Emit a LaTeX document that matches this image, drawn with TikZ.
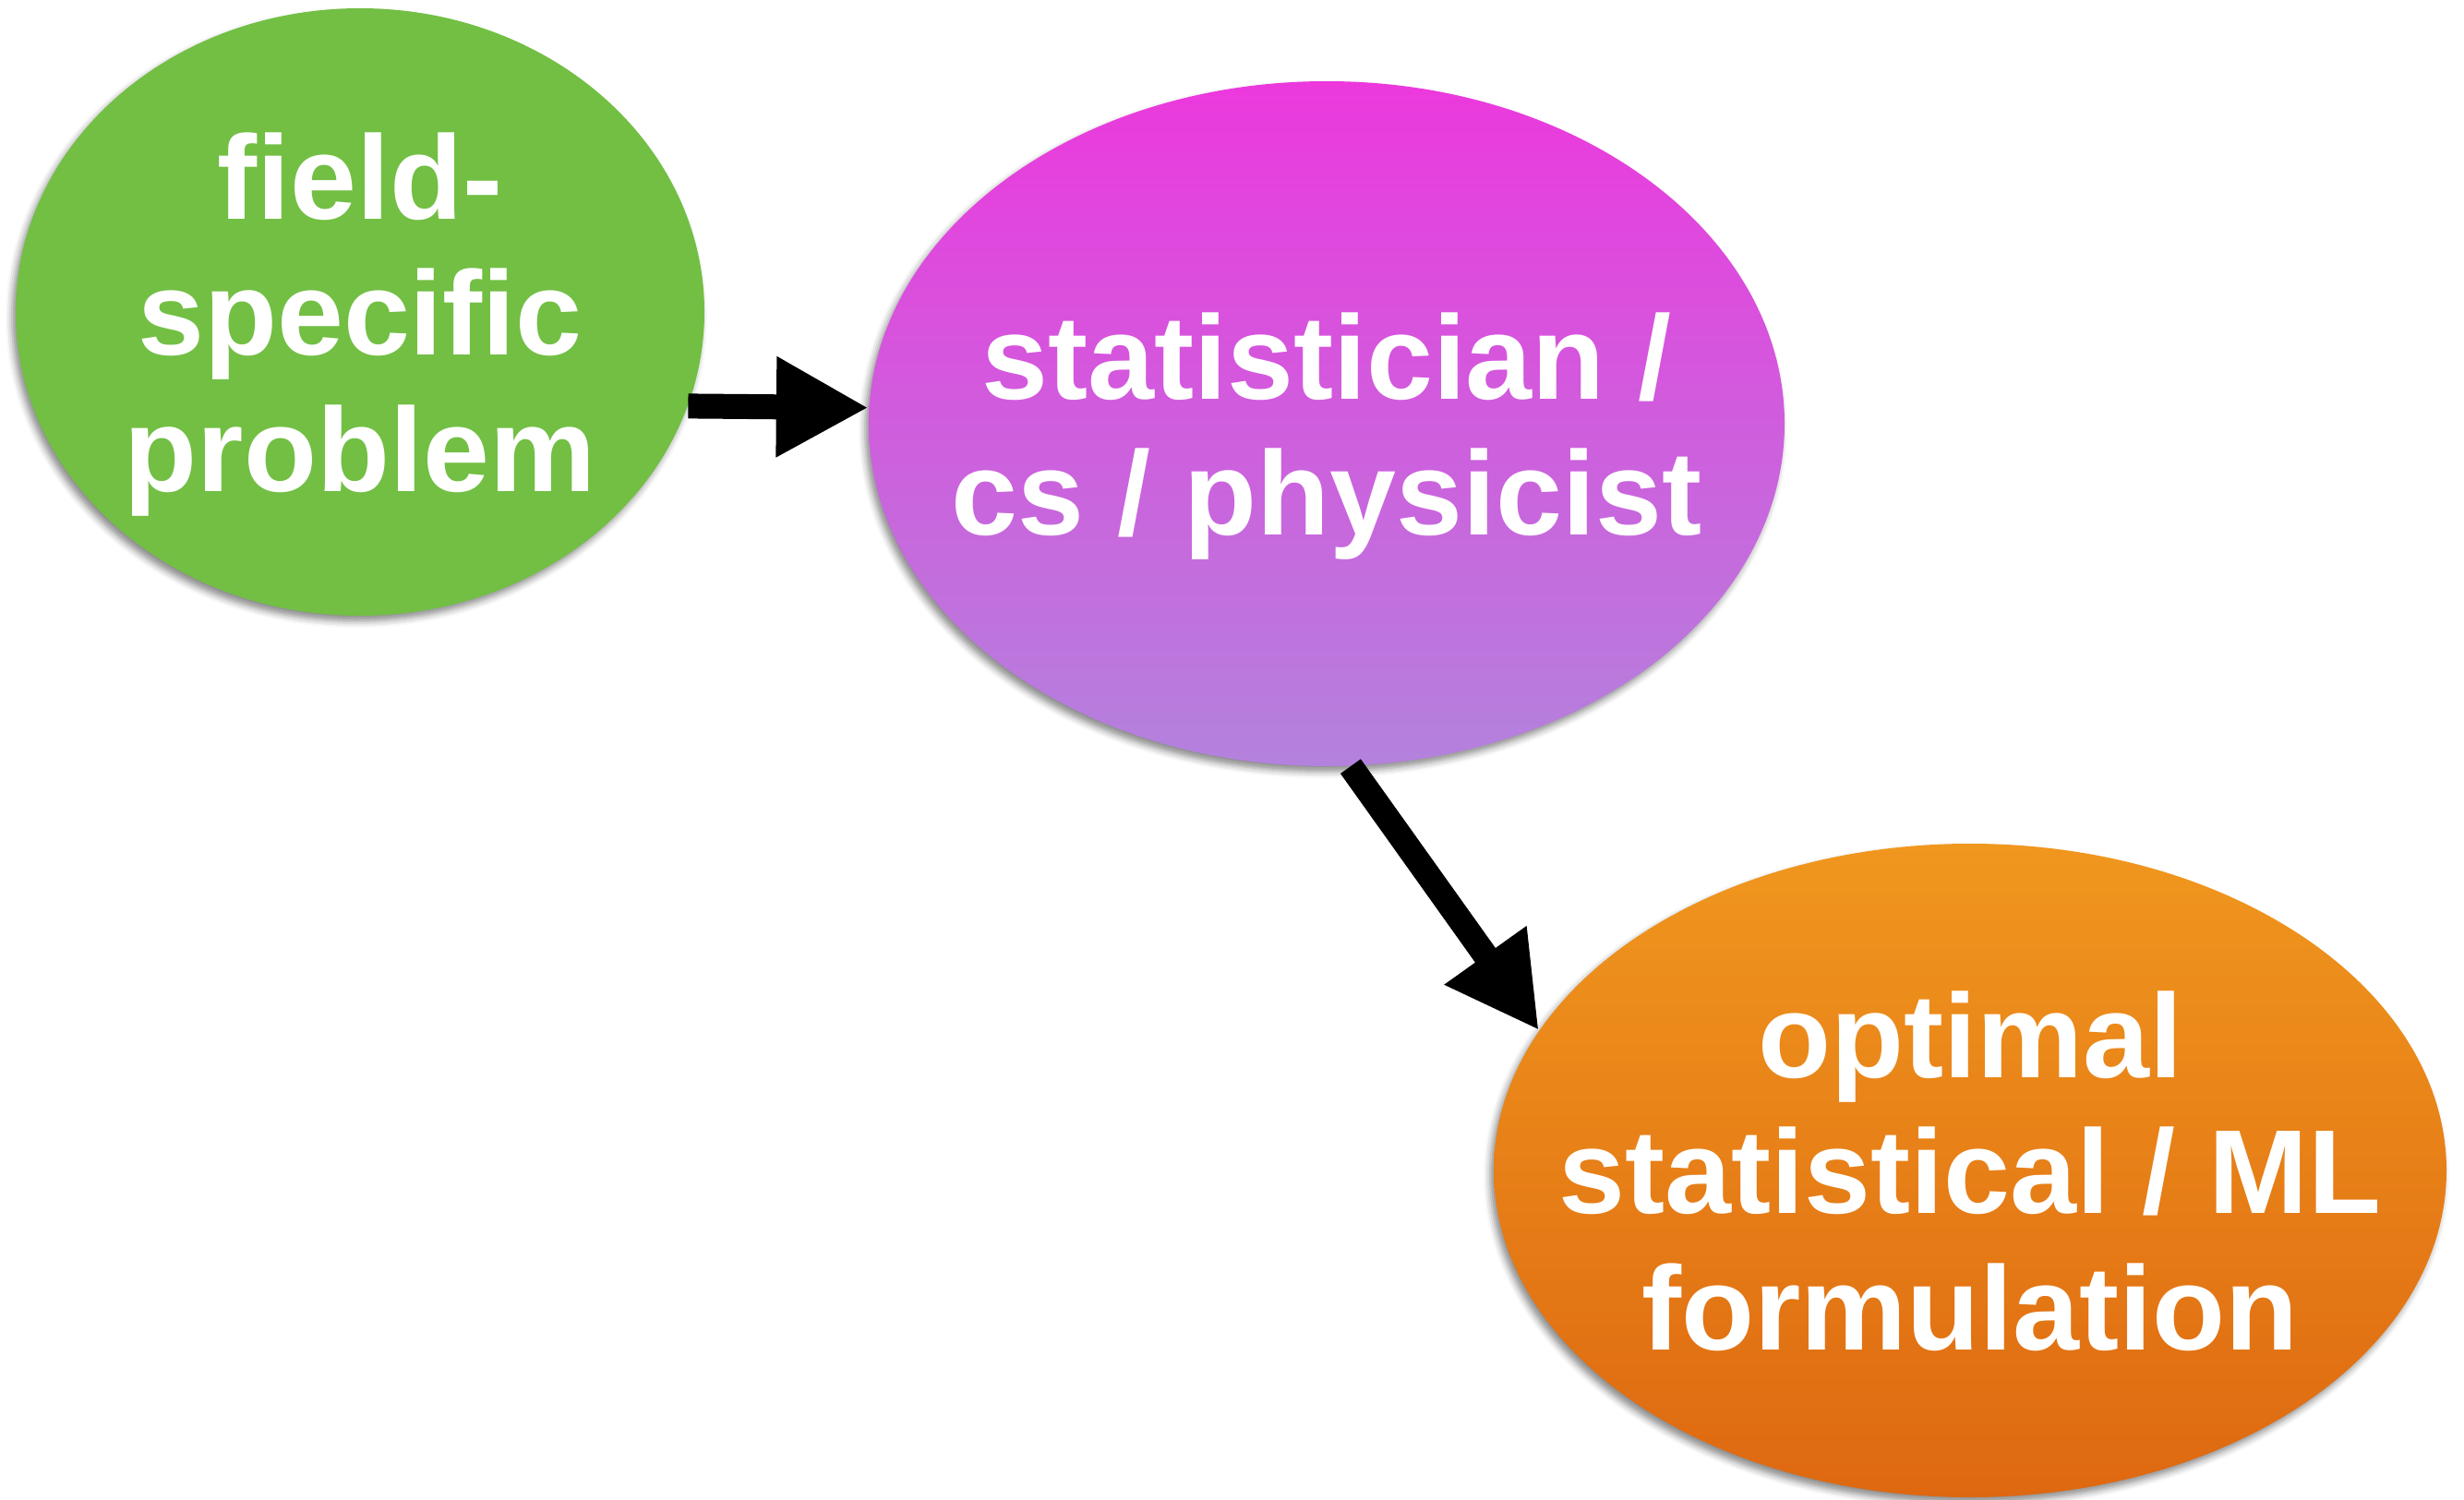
\documentclass[tikz,border=0pt]{standalone}
\usepackage{fontspec}
\setmainfont{Liberation Sans}
\usepackage{tikz}
\usetikzlibrary{arrows.meta,shapes.geometric,shadows.blur}
\definecolor{leafgreen}{HTML}{72BF44}
\definecolor{magtop}{HTML}{EC38DD}
\definecolor{magbot}{HTML}{B382DD}
\definecolor{orgtop}{HTML}{F0971E}
\definecolor{orgbot}{HTML}{DE6811}

\begin{document}
\begin{tikzpicture}[x=1cm,y=1cm,
  blob/.style={ellipse,inner sep=0pt,draw=none,
    blur shadow={shadow xshift=-0.04cm,shadow yshift=-0.06cm,shadow blur radius=0.07cm,shadow opacity=45}},
  blobtext/.style={text=white,align=center,text depth=0pt,font=\fontsize{36.8}{42}\selectfont\bfseries},
  flow/.style={line width=0.27cm,-{Triangle[length=1cm,width=1.02cm]}}]
\useasboundingbox (0,0) rectangle (26.69,-16.25);
% ellipses
\node[blob,fill=leafgreen,minimum width=7.46cm,minimum height=6.58cm] (field) at (3.90,-3.38) {};
\node[blob,top color=magtop,bottom color=magbot,minimum width=9.92cm,minimum height=7.42cm] (expert) at (14.37,-4.59) {};
\node[blob,top color=orgtop,bottom color=orgbot,minimum width=10.32cm,minimum height=7.08cm] (formul) at (21.34,-12.68) {};
% texts
\node[blobtext] (fieldtext) at (field) {field-\\specific\\problem};
\node[blobtext] (experttext) at (expert) {statistician /\\cs / physicist};
\node[blobtext] (formultext) at (formul) {optimal\\statistical / ML\\formulation};
% arrows
\draw[flow] (field.-16) -- (expert.178);
\draw[flow] (expert.-86.5) -- (formul.162);
\end{tikzpicture}
\end{document}
